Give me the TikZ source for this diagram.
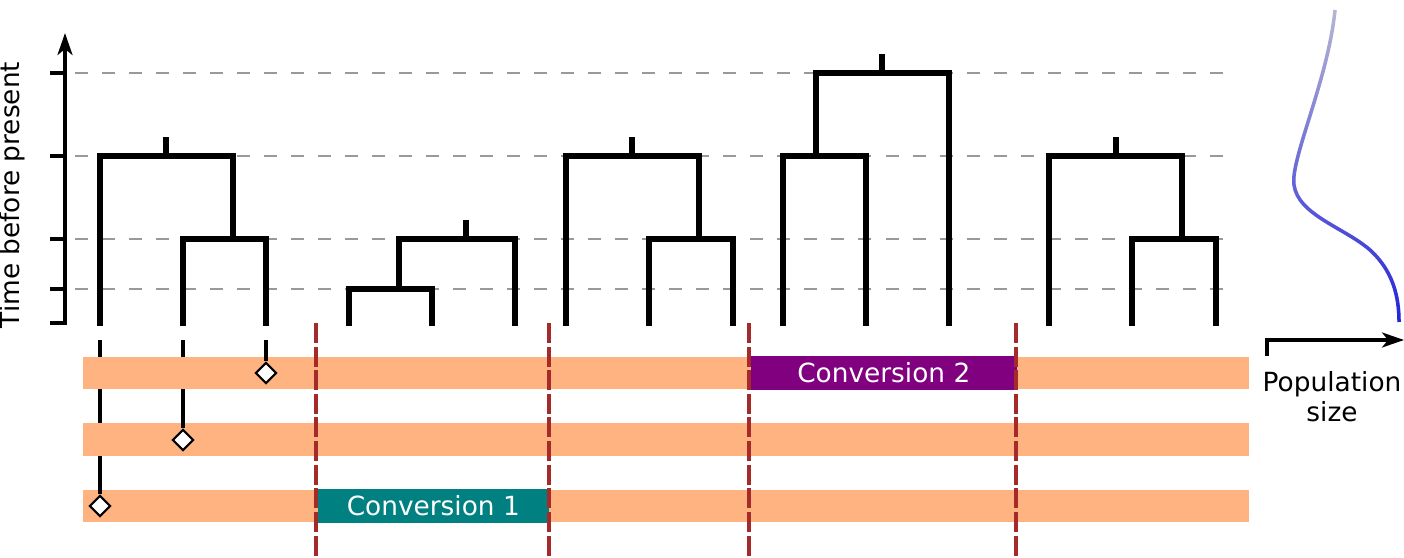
\documentclass[tikz,border=0pt]{standalone}
\usepackage{fontspec}
\setmainfont{DejaVu Sans}
\usetikzlibrary{arrows.meta,shapes.geometric,fadings,positioning}
\definecolor{bandorange}{HTML}{FFB380}
\definecolor{convteal}{HTML}{008080}
\definecolor{convpurple}{HTML}{800080}
\definecolor{breakred}{HTML}{A52A2A}
\definecolor{popblue}{HTML}{2222DD}
\tikzfading[name=fadetop, top color=transparent!85, bottom color=transparent!0]
\tikzset{
  branch/.style={line width=0.065cm, line cap=rect},
  axisline/.style={line width=0.032cm},
  timegrid/.style={gray!80, line width=0.015cm, dash pattern=on 0.13cm off 0.14cm},
  band/.style={fill=bandorange, draw=none},
  convbox/.style={draw=none, text=white, minimum width=#1, minimum height=0.33cm, inner sep=0pt, anchor=west},
  breakline/.style={breakred, line width=0.035cm, dash pattern=on 0.2cm off 0.036cm},
  mutation/.style={diamond, draw, fill=white, line width=0.02cm, inner sep=0pt, minimum width=0.21cm, minimum height=0.21cm},
  lbl/.style={font=\fontsize{7.5}{8.6}\selectfont}
}
\begin{document}
\begin{tikzpicture}[x=0.01cm,y=-0.01cm]
\useasboundingbox (0,0) rectangle (1404,558);

\foreach \t in {73,156,239,289}
  \draw[timegrid] (75,\t) -- (1232,\t);

% time axis
\draw[axisline,-{Stealth[length=0.22cm,width=0.15cm,inset=0.06cm]}] (50,323) -- (65,323) -- (65,33);
\foreach \t in {73,156,239,289}
  \draw[axisline] (50,\t) -- (65,\t);
\node[lbl, rotate=90] (timelabel) at (12,195) {Time before present};

% local trees
\draw[branch] (100,323) -- (100,156) -- (233,156) -- (233,239);
\draw[branch] (183,323) -- (183,239) -- (266,239) -- (266,323);
\draw[branch] (166,156) -- (166,140);

\draw[branch] (349,323) -- (349,289) -- (432,289) -- (432,323);
\draw[branch] (399,289) -- (399,239) -- (515,239) -- (515,323);
\draw[branch] (466,239) -- (466,223);

\draw[branch] (566,323) -- (566,156) -- (699,156) -- (699,239);
\draw[branch] (649,323) -- (649,239) -- (733,239) -- (733,323);
\draw[branch] (632,156) -- (632,140);

\draw[branch] (783,323) -- (783,156) -- (866,156) -- (866,323);
\draw[branch] (816,156) -- (816,73) -- (949,73) -- (949,323);
\draw[branch] (882,73) -- (882,57);

\draw[branch] (1049,323) -- (1049,156) -- (1182,156) -- (1182,239);
\draw[branch] (1132,323) -- (1132,239) -- (1216,239) -- (1216,323);
\draw[branch] (1116,156) -- (1116,140);

% samples
\coordinate (leafA) at (100,340);
\coordinate (leafB) at (183,340);
\coordinate (leafC) at (266,340);
\draw[axisline] (leafA) -- (100,490);
\draw[axisline] (leafB) -- (183,423);

\fill[band] (83,357) rectangle (1249,389);
\fill[band] (83,423) rectangle (1249,456);
\fill[band] (83,490) rectangle (1249,522);

\node[convbox=2.66cm, fill=convpurple, lbl] (convB) at (750,373) {Conversion 2};
\node[convbox=2.31cm, fill=convteal, lbl] (convA) at (317,506) {Conversion 1};

\node[mutation] (mutC) at (266,373) {};
\node[mutation] (mutB) at (183,440) {};
\node[mutation] (mutA) at (100,506) {};
\draw[axisline] (leafC) -- (mutC);
\draw[axisline] (183,423) -- (mutB);
\draw[axisline] (100,490) -- (mutA);

% recombination breakpoints
\foreach \x in {316,549,749,1016}
  \draw[breakline] (\x,323) -- (\x,558);

% population size history
\draw[axisline,-{Stealth[length=0.22cm,width=0.15cm,inset=0.06cm]}] (1267,356) -- (1267,340) -- (1404,340);
\node[lbl, align=center] (poplabel) at (1332,397) {Population\\size};
\draw[gray!35, line width=0.035cm] (1335,10) .. controls (1328,80) and (1290,160) .. (1294,185) .. controls (1298,215) and (1345,228) .. (1370,250) .. controls (1392,270) and (1399,295) .. (1399,322);
\draw[popblue, line width=0.035cm, path fading=fadetop] (1335,10) .. controls (1328,80) and (1290,160) .. (1294,185) .. controls (1298,215) and (1345,228) .. (1370,250) .. controls (1392,270) and (1399,295) .. (1399,322);
\end{tikzpicture}
\end{document}
